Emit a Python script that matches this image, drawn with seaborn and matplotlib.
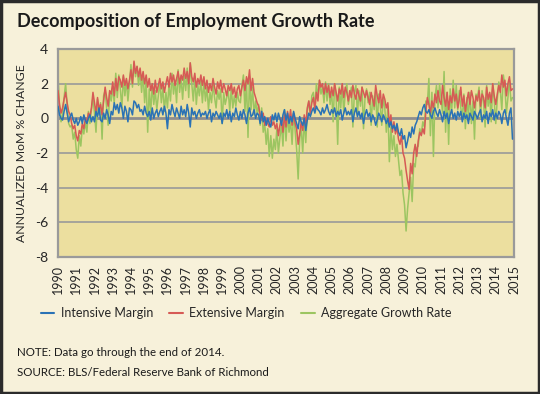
import numpy as np
import pandas as pd
import matplotlib
matplotlib.use("Agg")
import matplotlib.pyplot as plt
import seaborn as sns
from matplotlib.patches import Rectangle
from matplotlib.lines import Line2D

years = list(range(1990, 2015))
series_names = ["Intensive Margin", "Extensive Margin", "Aggregate Growth Rate"]

intensive = [
    0.7, 0.2, 0.0, -0.1, 0.4, 0.8, 0.3, -0.2, 0.1, 0.3, -0.1, -0.3,
    0.0, -0.4, -0.2, 0.1, -0.3, 0.2, -0.1, -0.3, 0.0, 0.2, -0.2, 0.1,
    -0.2, 0.4, 0.1, 0.6, -0.1, -0.2, 0.3, 0.0, 0.5, 0.2, -0.3, 0.4,
    0.2, 0.9, 0.5, 0.8, 0.3, 0.9, 0.6, 0.0, 0.7, 0.4, -0.2, 0.6,
    0.5, 0.2, 1.0, 0.9, 0.6, 0.8, 0.4, 0.5, 0.2, 0.7, 0.3, 0.1,
    0.4, -0.1, 0.6, 0.0, 0.3, 0.5, 0.1, 0.4, 0.6, 0.2, 0.7, 0.3,
    -0.6, 0.5, 0.2, 0.8, 0.4, 0.1, 0.6, 0.3, 0.0, 0.7, 0.2, 0.5,
    0.1, 0.8, 0.3, -0.5, 0.6, 0.2, 0.4, 0.0, 0.3, 0.5, 0.1, 0.3,
    0.2, 0.4, 0.0, 0.3, 0.5, -0.2, 0.3, 0.1, 0.4, 0.2, 0.0, 0.3,
    -0.3, 0.3, 0.1, 0.5, 0.0, 0.4, -0.2, 0.3, 0.1, 0.6, 0.2, -0.1,
    0.4, 0.0, 0.5, 0.2, -0.3, 0.3, 0.6, 0.1, 0.2, 0.5, 0.0, 0.3,
    0.2, -0.3, 0.4, -0.2, 0.1, -0.4, 0.0, -0.3, -0.5, 0.2, -0.1, 0.3,
    -0.2, 0.3, 0.0, -0.4, 0.2, 0.5, -0.1, 0.3, -0.3, 0.1, -0.2, 0.4,
    0.0, -0.3, -0.6, 0.1, -0.2, -0.4, 0.0, -0.7, -0.1, 0.3, 0.1, 0.4,
    0.6, 0.3, 0.7, 0.5, 0.4, 0.2, 0.6, 0.3, 0.5, 0.8, 0.4, 0.2,
    0.5, 0.3, 0.6, 0.1, 0.4, 0.2, 0.5, -0.1, 0.3, 0.6, 0.2, 0.4,
    0.2, 0.5, -0.2, 0.3, 0.6, 0.1, 0.4, 0.0, 0.3, -0.3, 0.2, 0.5,
    0.1, 0.3, -0.2, 0.2, 0.0, -0.4, -0.1, 0.3, 0.1, -0.2, 0.2, 0.0,
    -0.3, 0.0, -0.5, -0.2, -0.6, -0.4, -0.7, -0.3, -0.8, -1.0, -0.6, -1.2,
    -1.0, -1.7, -1.3, -0.8, -1.1, -0.5, -0.9, -0.4, -0.2, 0.1, 0.4, 0.2,
    0.6, 0.8, 0.4, 0.3, 0.5, 0.2, 0.0, 0.4, 0.6, 0.3, 0.1, 0.5,
    0.2, -0.2, 0.4, 0.0, 0.3, -0.3, 0.2, 0.5, 0.0, 0.3, -0.1, 0.4,
    0.1, 0.4, -0.2, 0.3, 0.0, 0.2, -0.3, 0.3, 0.1, -0.1, 0.4, 0.2,
    0.0, 0.3, 0.5, -0.2, 0.2, 0.0, 0.4, -0.3, 0.3, 0.1, 0.5, -0.1,
    0.3, 0.0, 0.4, 0.2, -0.3, 0.3, 0.5, 0.0, -0.4, 0.3, 0.6, -1.2,
]

extensive = [
    1.6, 0.8, 0.3, 0.6, 1.1, 1.5, 0.9, 0.4, 0.2, -0.3, -0.6, -0.4,
    -1.0, -1.3, -0.7, -0.9, -0.3, -0.6, 0.0, -0.2, 0.3, 0.1, 0.6, 1.5,
    0.9, 0.3, 1.2, 0.5, 0.8, 0.2, 1.0, 1.8, 1.2, 0.7, 1.6, 1.4,
    2.1, 1.3, 2.3, 1.6, 2.4, 2.2, 1.8, 2.5, 1.9, 2.3, 1.7, 2.2,
    2.8, 2.0, 3.3, 2.6, 3.0, 2.4, 2.9, 2.2, 2.7, 2.0, 2.5, 1.8,
    2.3, 1.6, 2.0, 1.4, 2.2, 1.5, 1.9, 2.3, 1.7, 2.1, 1.5, 2.0,
    2.4, 1.8, 2.6, 2.1, 2.5, 1.9, 2.3, 2.7, 2.0, 2.5, 2.2, 2.9,
    2.3, 2.7, 2.0, 3.2, 2.4, 2.1, 2.6, 1.8, 2.3, 2.0, 2.5, 1.9,
    2.4, 1.7, 2.2, 1.5, 2.0, 1.6, 2.3, 1.8, 1.4, 2.1, 1.7, 2.2,
    1.5, 2.0, 1.7, 1.3, 1.9, 1.6, 2.0, 1.4, 1.8, 1.2, 1.7, 1.9,
    1.3, 1.8, 2.2, 1.6, 2.4, 2.0, 2.8, 1.6, 2.3, 1.5, 1.2, 0.9,
    0.7, 0.2, -0.1, 0.3, -0.4, 0.0, -0.3, -0.5, 0.1, -0.4, -0.2, -0.6,
    -0.3, -1.0, -0.4, 0.0, -0.8, 0.2, -0.5, 0.4, -0.2, 0.5, -0.4, 0.3,
    -0.3, -0.6, -1.5, -0.9, -0.2, -0.7, 0.2, -0.4, 0.6, 1.0, 0.3, 0.9,
    1.2, 0.5, 1.5, 1.0, 2.2, 1.8, 2.0, 1.4, 2.0, 1.5, 1.9, 1.2,
    1.8, 1.3, 2.0, 1.5, 1.0, 1.7, 1.4, 2.0, 1.2, 1.8, 1.5, 1.0,
    1.6, 1.2, 1.9, 1.4, 1.1, 1.7, 1.3, 1.0, 1.8, 1.5, 1.2, 1.6,
    1.2, 0.8, 1.5, 1.1, 0.7, 1.9, 1.3, 0.9, 1.6, 0.6, 1.4, 1.1,
    0.6, 0.9, -0.4, 0.2, -0.8, -0.2, -0.9, -0.5, -1.2, -1.5, -1.0, -2.0,
    -2.3, -3.0, -3.6, -4.1, -2.6, -3.2, -2.0, -1.5, -2.2, -1.3, -0.8, -1.0,
    -0.6, -0.9, 0.4, 1.2, 0.8, 0.3, 1.0, 0.6, 1.4, 0.9, 1.6, 1.0,
    0.8, 1.9, 1.2, 0.7, 1.5, 0.5, 1.3, 0.9, 1.7, 1.0, 1.4, 0.6,
    1.1, 1.8, 0.7, 1.3, 0.4, 1.0, 1.5, 0.8, 1.6, 1.2, 0.6, 1.3,
    1.0, 1.6, 0.7, 1.4, 1.2, 0.6, 1.8, 1.1, 1.5, 0.9, 2.0, 1.3,
    0.8, 1.4, 1.9, 1.5, 2.5, 1.8, 2.2, 1.3, 2.0, 2.4, 1.6, 1.7,
]

aggregate = [
    2.5, 0.6, -0.2, 0.3, 1.2, 2.0, 0.8, -0.3, -0.5, -0.4, -1.2, -0.8,
    -1.8, -2.3, -1.0, -1.6, -0.5, -0.9, -0.2, -0.8, 0.4, -0.3, 0.5, 1.2,
    0.3, -0.8, 1.1, 0.2, 0.9, -1.2, 1.3, 1.6, 0.6, -0.4, 1.5, 1.0,
    1.8, 0.9, 2.6, 1.2, 2.5, 1.7, 0.6, 2.4, 1.3, 2.2, 1.0, 2.0,
    3.1, 1.8, 3.2, 2.4, 3.0, 1.9, 2.8, 1.5, 2.6, 0.9, 2.2, -0.8,
    1.7, 0.3, 2.0, 0.8, 1.6, 0.5, 1.3, 2.1, 0.9, 1.8, 0.4, 1.5,
    0.6, 1.9, 1.0, 2.6, 1.4, 2.2, 0.9, 2.8, 1.5, 2.3, 1.1, 2.5,
    1.6, 2.9, 1.2, 3.2, 2.0, 1.0, 2.4, 0.8, 1.9, 1.3, 2.2, 0.9,
    2.1, 1.0, 1.8, 0.5, 1.5, 0.9, 2.0, 1.2, 0.6, 1.6, 1.1, 1.7,
    -0.3, 1.5, 0.8, 1.2, 1.6, 0.4, 1.8, 0.6, 1.3, 0.7, 1.5, 1.0,
    0.9, 1.9, 2.5, 0.4, 2.2, -1.1, 2.4, 0.5, 1.8, 0.2, 1.0, 0.3,
    0.8, -0.4, 0.6, -0.8, -0.3, -1.5, -0.6, -2.2, -1.0, -2.3, -1.2, -1.8,
    -0.6, -2.0, -1.1, -0.4, -1.6, 0.5, -1.3, 0.2, -0.8, -0.1, -1.5, 0.3,
    -0.7, -1.8, -3.5, -1.2, -0.5, -2.0, 0.0, -1.4, 0.4, 1.0, 0.2, 1.3,
    1.5, 0.6, 2.0, 1.2, 2.2, 1.4, 1.8, 0.9, 2.1, 1.0, 2.0, 0.8,
    1.6, -0.2, 2.0, 1.2, -1.5, 1.8, 0.6, 1.9, 0.3, 1.5, 2.0, 0.8,
    1.3, 1.8, -0.5, 1.5, 1.9, 0.2, 1.6, 0.7, 1.8, -0.6, 1.2, 1.7,
    0.9, 1.5, -0.4, 1.3, 0.5, 1.6, -0.5, 1.4, 0.8, -0.4, 1.2, 0.6,
    -0.8, 0.7, -2.5, -0.5, -1.8, -1.0, -2.2, -1.5, -2.4, -3.3, -3.0, -4.3,
    -5.0, -6.5, -5.2, -4.3, -3.4, -4.8, -2.6, -2.8, -1.7, -1.6, -0.6, -0.9,
    -0.2, -0.5, 1.0, 0.8, 2.3, -1.0, 1.5, -2.2, 1.2, 1.9, 0.6, 2.0,
    1.2, 0.3, 2.7, -0.8, 1.5, -1.5, 1.7, 0.4, 2.2, 0.6, 1.9, 0.5,
    1.6, 0.6, 0.0, 1.4, -0.6, 1.2, 0.1, 1.5, -0.3, 1.0, -1.2, 1.4,
    1.2, 1.8, 0.0, 1.6, 0.9, -0.5, 1.9, 0.7, 1.4, -0.2, 2.0, 1.0,
    -0.3, 1.1, 2.1, 1.6, 0.5, 2.5, 1.8, 0.3, 1.2, 2.2, 1.0, 1.2,
]

n = len(intensive)
t = 1990 + np.arange(n) / 12.0
df = pd.DataFrame({
    "t": np.concatenate([t, t, t]),
    "value": intensive + extensive + aggregate,
    "series": [series_names[0]] * n + [series_names[1]] * n + [series_names[2]] * n,
})

colors = {"Intensive Margin": "#2a72b5", "Extensive Margin": "#d65a55", "Aggregate Growth Rate": "#9cc561"}
fig_bg = "#f7f1da"
ax_bg = "#ecdf9f"

sns.set_style("white")
plt.rcParams["font.family"] = ["Lato", "DejaVu Sans"]

fig = plt.figure(figsize=(5.4, 3.94), dpi=100, facecolor=fig_bg)
ax = fig.add_axes([58 / 540, 1 - 257 / 394, (514 - 58) / 540, (257 - 49) / 394])
ax.set_facecolor(ax_bg)

zorders = {"Aggregate Growth Rate": 2, "Extensive Margin": 3, "Intensive Margin": 4}
for name in ["Aggregate Growth Rate", "Extensive Margin", "Intensive Margin"]:
    sns.lineplot(data=df[df["series"] == name], x="t", y="value", color=colors[name],
                 linewidth=1.1, ax=ax, zorder=zorders[name], legend=False)

ax.set_xlim(1990, 2015)
ax.set_ylim(-8, 4)
ax.set_yticks([-8, -6, -4, -2, 0, 2, 4])
ax.set_yticklabels(["-8", "-6", "-4", "-2", "0", "2", "4"], fontsize=10)
xt = list(range(1990, 2016))
ax.set_xticks(xt)
ax.set_xticklabels([str(y) for y in xt], rotation=90, fontsize=9)
ax.tick_params(axis="x", direction="out", length=4, width=1, color="#8c8c8c", pad=2)
ax.tick_params(axis="y", length=0, pad=7)
for yv in [-6, -4, -2, 2]:
    ax.axhline(yv, color="#9a9a9a", linewidth=1.2, zorder=1)
ax.axhline(0, color="#8e8e8e", linewidth=2.0, zorder=1)
for s in ax.spines.values():
    s.set_color("#9a9a9a")
    s.set_linewidth(1.6)
ax.set_xlabel("")
ax.set_ylabel("ANNUALIZED MoM % CHANGE", fontsize=8.8, labelpad=6)

fig.text(17 / 540, 1 - 22 / 394, "Decomposition of Employment Growth Rate",
         fontsize=13, fontweight="bold", va="center", ha="left", color="#1a1a1a")

handles = [Line2D([0], [0], color=colors[nm], linewidth=1.5) for nm in series_names]
fig.legend(handles, series_names, loc="center", bbox_to_anchor=(246 / 540, 1 - 313 / 394),
           ncol=3, frameon=False, fontsize=9, handlelength=1.1, columnspacing=1.3,
           handletextpad=0.5)

fig.text(17 / 540, 1 - 352 / 394, "NOTE: Data go through the end of 2014.", fontsize=8.3,
         va="center", ha="left", color="#1a1a1a")
fig.text(17 / 540, 1 - 372 / 394, "SOURCE: BLS/Federal Reserve Bank of Richmond", fontsize=8.3,
         va="center", ha="left", color="#1a1a1a")

fig.patches.append(Rectangle((0.002, 0.003), 0.996, 0.994, transform=fig.transFigure,
                             fill=False, edgecolor="#2b2b2b", linewidth=2.5))

fig.savefig("out.png", dpi=100, facecolor=fig_bg)
